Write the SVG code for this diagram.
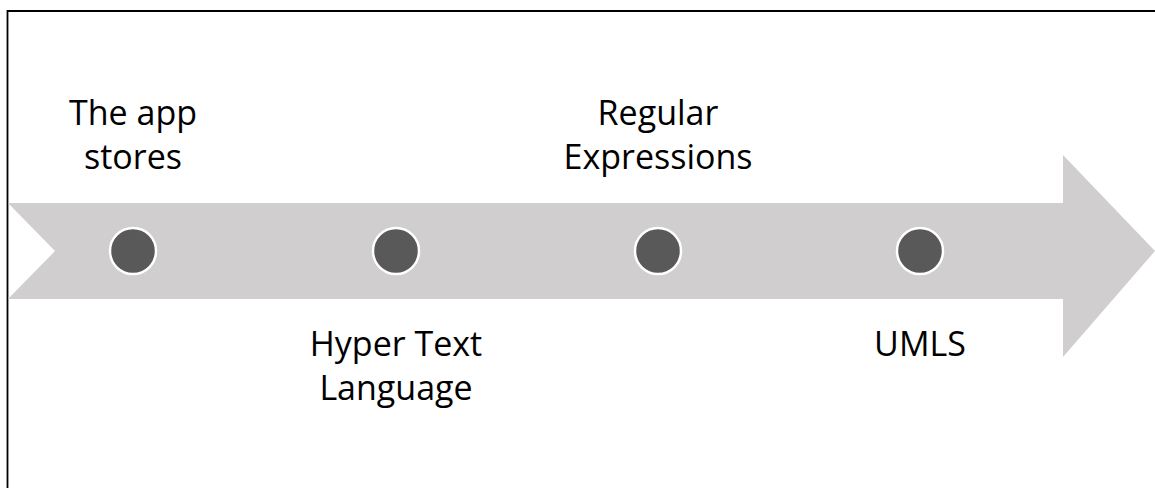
<svg xmlns="http://www.w3.org/2000/svg" width="1155" height="488" viewBox="0 0 1155 488">
  <style>
    .lbl { font-family: "Open Sans", "Liberation Sans", sans-serif; font-size: 34px; fill: #000; text-anchor: middle; }
    .dot { fill: #595959; stroke: #ffffff; stroke-width: 2.5; }
  </style>
  <rect x="0" y="0" width="1155" height="488" fill="#ffffff"/>
  <!-- frame (top and left edges) -->
  <path d="M7.5 490 V11 H1160" fill="none" stroke="#000" stroke-width="1.8"/>
  <!-- timeline arrow -->
  <g id="arrow">
    <polygon points="8,203 1063,203 1063,155 1155,251 1063,357 1063,299 8,299 55,251" fill="#d0cece"/>
  </g>
  <g id="node1">
    <circle class="dot" cx="133" cy="251" r="23"/>
    <text class="lbl" x="133" y="125">The app</text>
    <text class="lbl" x="133" y="169">stores</text>
  </g>
  <g id="node2">
    <circle class="dot" cx="396" cy="251" r="23"/>
    <text class="lbl" x="396" y="356">Hyper Text</text>
    <text class="lbl" x="396" y="400">Language</text>
  </g>
  <g id="node3">
    <circle class="dot" cx="658" cy="251" r="23"/>
    <text class="lbl" x="658" y="125">Regular</text>
    <text class="lbl" x="658" y="169">Expressions</text>
  </g>
  <g id="node4">
    <circle class="dot" cx="920" cy="251" r="23"/>
    <text class="lbl" x="920" y="356">UMLS</text>
  </g>
  <g id="connectors"></g>
</svg>
